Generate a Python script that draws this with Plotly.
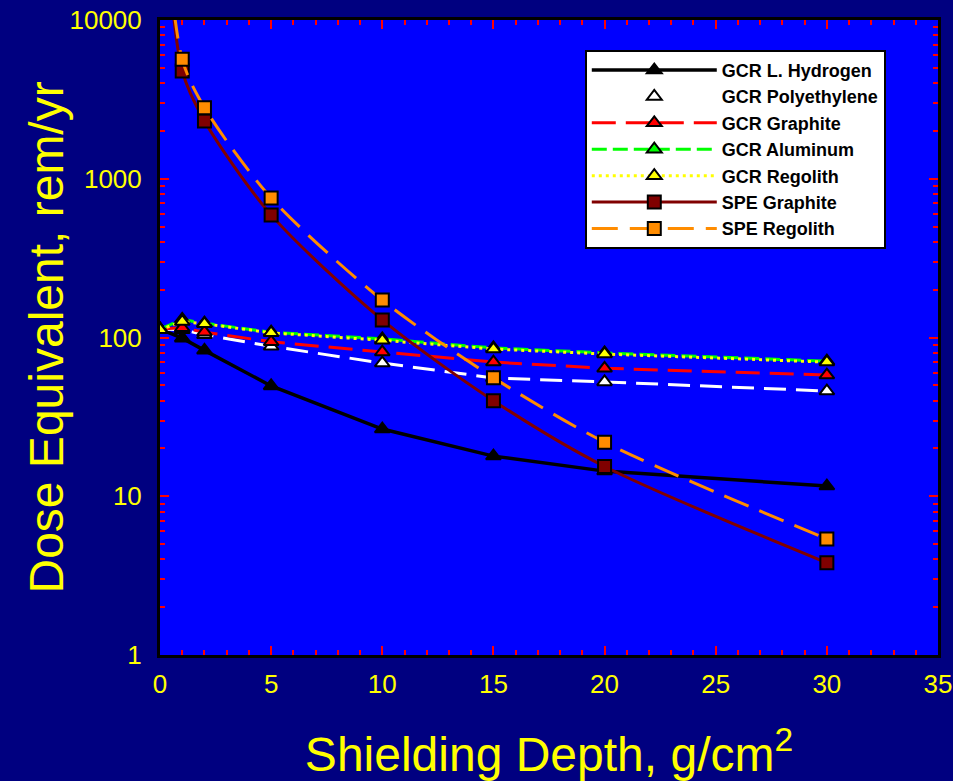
import plotly.graph_objects as go

depth_gcr = [0, 1, 2, 5, 10, 15, 20, 30]
gcr_hydrogen = [113, 99, 83, 49.5, 26.5, 17.9, 14.4, 11.6]
gcr_poly = [113, 112, 104, 88, 69, 55.6, 52.5, 46]
gcr_graphite = [113, 115, 108, 94, 81, 70, 64, 58]
gcr_aluminum = [113, 130, 123, 108, 98, 86, 80, 71]
gcr_regolith = [112, 126, 122, 107, 96, 84.6, 78.7, 70]

depth_spe = [0, 1, 2, 5, 10, 15, 20, 30]
spe_graphite = [100000, 4775, 2312, 592, 129, 40, 15.4, 3.81]
spe_regolith = [100000, 5650, 2805, 757, 172, 55.8, 21.9, 5.38]

x_ticks = [0, 5, 10, 15, 20, 25, 30, 35]
y_ticks = [1, 10, 100, 1000, 10000]
y_ticklabels = ["1", "10", "100", "1000", "10000"]
y_minor = [m * 10 ** k for k in range(4) for m in range(2, 10)]

series = [
    ("GCR L. Hydrogen", depth_gcr, gcr_hydrogen, "black", "solid", "triangle-up", "black", "linear", 3.5),
    ("GCR Polyethylene", depth_gcr, gcr_poly, "white", "22px,10px", "triangle-up", "white", "linear", 3),
    ("GCR Graphite", depth_gcr, gcr_graphite, "#FF0000", "24px,10px", "triangle-up", "#FF0000", "linear", 3),
    ("GCR Aluminum", depth_gcr, gcr_aluminum, "#00FF00", "15px,6px", "triangle-up", "#00FF00", "linear", 3),
    ("GCR Regolith", depth_gcr, gcr_regolith, "#FFFF00", "3px,4px", "triangle-up", "#FFFF00", "linear", 3),
    ("SPE Graphite", depth_spe, spe_graphite, "#800000", "solid", "square", "#800000", "spline", 3),
    ("SPE Regolith", depth_spe, spe_regolith, "#FF8C00", "26px,12px", "square", "#FF8C00", "spline", 3),
]

fig = go.Figure()
for name, xs, ys, lc, dash, sym, mc, shape, lw in series:
    fig.add_trace(go.Scatter(
        x=xs, y=ys, name=name, mode="lines+markers",
        line=dict(color=lc, width=lw, dash=dash, shape=shape, smoothing=0.8),
        marker=dict(symbol=sym, size=13, color=mc, line=dict(color="black", width=2)),
        cliponaxis=True,
    ))

fig.update_layout(
    width=953, height=781,
    paper_bgcolor="#000080", plot_bgcolor="#0000FF",
    margin=dict(l=160, r=15, t=20, b=126, autoexpand=False),
    font=dict(family="Liberation Sans, Arial, sans-serif", color="#FFFF00"),
    showlegend=True,
    hovermode=False,
    legend=dict(
        x=0.546, y=0.953, xanchor="left", yanchor="top",
        bgcolor="white", bordercolor="black", borderwidth=2,
        font=dict(size=18, color="black", weight="bold"),
        itemwidth=125, tracegroupgap=0,
    ),
    annotations=[dict(
        text="Dose Equivalent, rem/yr", textangle=-90,
        xref="paper", yref="paper", x=-0.1465, y=0.50,
        xanchor="center", yanchor="middle", showarrow=False,
        font=dict(size=48, color="#FFFF00"),
    )],
)

fig.update_xaxes(
    range=[0, 35], tickvals=x_ticks, automargin=False,
    ticks="inside", ticklen=9, tickwidth=2, tickcolor="red",
    minor=dict(ticks="inside", ticklen=5, tickwidth=2, tickcolor="red", dtick=1),
    showline=True, linecolor="black", linewidth=3, mirror="allticks",
    showgrid=False, zeroline=False,
    tickfont=dict(size=26, color="#FFFF00"),
    ticklabelstandoff=4,
    title=dict(text="Shielding Depth, g/cm<sup>2</sup>", font=dict(size=48, color="#FFFF00"), standoff=40),
)
fig.update_yaxes(
    type="log", range=[0, 4], tickvals=y_ticks, ticktext=y_ticklabels, automargin=False,
    ticks="inside", ticklen=9, tickwidth=2, tickcolor="red",
    minor=dict(ticks="inside", ticklen=5, tickwidth=2, tickcolor="red", tickvals=y_minor),
    showline=True, linecolor="black", linewidth=3, mirror="allticks",
    showgrid=False, zeroline=False,
    tickfont=dict(size=26, color="#FFFF00"),
    ticklabelstandoff=10,
)

fig.write_html(
    "out.html",
    config={"displayModeBar": False},
    post_script="document.body.style.margin='0';document.body.style.background='#000080';",
)
